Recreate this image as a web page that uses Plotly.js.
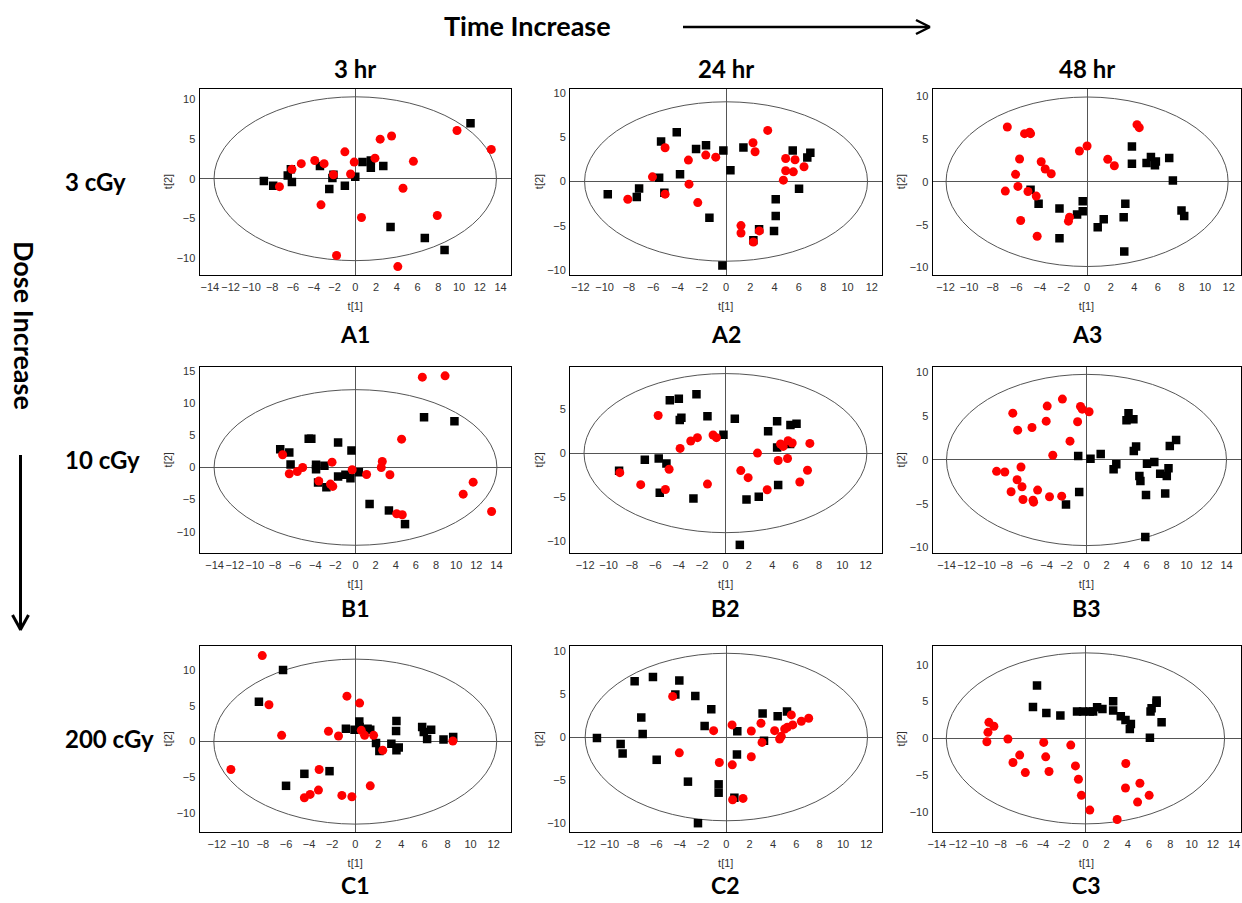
<!DOCTYPE html>
<html><head><meta charset="utf-8">
<script src="https://cdn.plot.ly/plotly-3.0.1.min.js"></script>
<style>html,body{margin:0;padding:0;background:#fff;} #chart{width:1242px;height:903px;}</style>
</head><body><div id="chart"></div>
<script>
// ---- Data: black squares (sq) and red circles (rd) per panel ----
const a1SqX = [11.1,-8.8,-7.9,-6.2,-6.5,-6.1,-3.4,-2.1,-2.2,-2.5,-1.0,0.0,0.7,1.5,1.5,2.7,3.4,6.7,8.6];
const a1SqY = [7.0,-0.3,-0.9,1.2,0.4,-0.4,1.6,0.5,0.1,-1.3,-0.9,0.25,2.1,2.3,1.4,1.6,-6.1,-7.5,-9.0];
const a1RdX = [-7.3,-6.1,-5.2,-3.9,-3.0,-3.3,-2.1,-1.0,-0.1,-0.45,-1.8,0.6,1.9,2.4,3.5,4.6,5.6,4.1,7.9,9.8,13.1];
const a1RdY = [-1.0,1.2,1.9,2.3,1.9,-3.3,0.5,3.4,2.1,0.6,-9.7,-4.9,2.6,5.0,5.4,-1.2,2.2,-11.1,-4.65,6.1,3.7];

const a2SqX = [-9.74,-7.35,-7.16,-5.35,-5.51,-5.08,-4.06,-3.79,-2.47,-1.65,-1.37,-0.22,-0.30,0.36,1.43,2.25,2.72,3.95,4.09,4.09,5.49,6.01,6.69,6.94];
const a2SqY = [-1.43,-1.74,-0.79,4.53,0.42,-1.28,5.55,0.83,3.66,4.08,-4.08,3.51,-9.47,1.28,3.85,-6.64,-5.40,-5.58,-2.0,-3.89,3.51,-0.83,2.72,3.25];
const a2RdX = [-8.09,-6.06,-5.02,-5.02,-3.10,-3.05,-2.33,-1.67,-0.85,1.23,1.23,2.25,2.74,2.22,2.39,3.43,4.72,4.91,4.91,5.54,5.68,6.42];
const a2RdY = [-2.0,0.53,3.81,-1.43,2.42,-0.30,-2.38,2.98,2.75,-4.98,-5.81,-6.83,-5.58,4.38,3.36,5.77,0.15,2.60,1.21,1.09,2.45,1.66];

const a3SqX = [3.80,3.80,5.04,5.41,5.75,5.83,6.96,7.27,8.0,8.23,3.24,3.10,3.15,1.41,0.90,-0.37,-0.37,-0.85,-2.34,-2.34,-4.11,-4.79];
const a3SqY = [4.12,2.10,2.18,2.88,1.91,2.37,2.76,0.16,-3.35,-4.0,-2.57,-4.12,-8.13,-4.36,-5.29,-2.26,-3.42,-3.81,-3.11,-6.58,-2.57,-0.93];
const a3RdX = [-6.76,-5.30,-4.87,-4.79,-5.72,-3.89,-3.55,-3.04,-6.06,-5.86,-6.93,-5.01,-4.31,-5.63,-4.23,-1.49,-1.58,-0.65,0.0,1.75,2.31,4.23,4.42];
const a3RdY = [6.38,5.60,5.76,5.60,2.65,2.33,1.48,0.93,0.86,-0.54,-1.09,-1.13,-1.67,-4.51,-6.34,-4.12,-4.59,3.58,4.16,2.61,1.87,6.65,6.30];

const b1SqX = [6.81,9.83,-7.48,-6.58,-6.45,-4.65,-4.39,-3.92,-3.92,-3.09,-1.73,-0.40,-1.73,-1.0,-0.50,0.33,-3.72,-2.89,1.40,3.32,4.92];
const b1SqY = [7.82,7.20,2.85,2.33,0.47,4.46,4.46,0.41,-0.26,0.26,3.89,2.64,-1.40,-1.14,-1.66,-0.73,-2.33,-3.06,-5.70,-6.68,-8.81];
const b1RdX = [6.64,8.90,4.58,-7.24,-6.58,-5.78,-5.25,-2.33,-3.65,-2.49,-2.26,-0.33,1.10,2.66,2.56,3.42,4.09,4.65,10.70,11.69,13.52];
const b1RdY = [14.04,14.25,4.40,1.97,-0.98,-0.62,0.0,0.83,-2.12,-2.59,-2.95,-0.36,-1.09,0.93,0.0,-1.14,-7.20,-7.36,-4.15,-2.28,-6.84];

const b2SqX = [-2.48,-4.76,-3.99,-3.91,-3.77,-1.54,-0.17,0.80,3.65,4.42,5.56,6.08,4.42,5.53,-6.90,-5.71,-5.05,-9.10,-5.62,-2.74,1.80,2.85,4.51,1.23];
const b2SqY = [6.65,5.97,6.16,3.76,3.99,4.18,2.09,3.88,2.47,3.61,3.19,3.31,0.65,1.03,-0.76,-0.61,-1.18,-2.0,-4.49,-5.13,-5.25,-4.94,-3.61,-10.38];
const b2RdX = [-5.76,-3.88,-2.97,-2.40,-1.06,-0.77,-4.82,-9.04,-7.25,-5.14,-1.54,1.31,1.94,2.74,3.57,4.51,4.71,4.94,5.31,5.36,5.71,6.36,7.02,7.22];
const b2RdY = [4.26,0.53,1.37,1.75,2.05,1.75,-1.83,-2.21,-3.57,-4.11,-3.50,-1.98,-2.78,0.0,-4.14,-0.84,1.03,0.76,-0.61,1.41,1.14,-3.27,-1.94,1.10];

const b3SqX = [4.20,4.0,4.69,4.96,4.73,8.33,8.96,-0.83,0.40,1.42,2.98,2.71,6.05,6.78,5.29,5.39,7.37,8.03,8.20,5.95,7.87,-0.73,-2.05,5.88];
const b3SqY = [5.36,4.56,4.67,1.53,1.03,1.61,2.30,0.46,0.15,0.69,-0.50,-1.07,-0.42,-0.23,-1.84,-2.41,-1.57,-1.84,-0.96,-4.02,-3.83,-3.68,-5.10,-8.81];
const b3RdX = [-2.41,-3.93,-0.60,-0.43,0.26,-7.37,-6.88,-5.45,-4.03,-0.89,-1.65,-3.37,-6.55,-8.99,-8.17,-6.94,-6.45,-7.54,-6.35,-5.29,-5.35,-4.89,-3.70,-2.48];
const b3RdY = [6.97,6.17,6.13,5.82,5.52,5.36,3.41,3.72,4.44,4.37,2.15,0.54,-0.80,-1.30,-1.38,-2.26,-3.07,-3.64,-4.52,-4.83,-4.6,-3.45,-4.21,-4.14];

const c1SqX = [-6.26,-8.35,-6.0,-4.41,-2.23,-0.81,-0.06,0.35,0.38,1.07,1.30,1.80,2.09,3.13,3.57,3.54,3.77,3.57,5.80,5.94,6.23,6.58,7.65,8.49];
const c1SqY = [10.0,5.56,-6.16,-4.49,-4.12,1.81,1.67,2.82,2.04,1.81,1.67,-0.19,-1.30,-0.28,2.87,1.48,-0.83,-1.20,2.04,1.34,0.37,1.67,0.28,0.65];
const c1RdX = [-8.06,-7.48,-6.38,-10.78,-4.41,-3.91,-3.19,-3.13,-2.32,-1.45,-0.72,0.38,-1.16,-0.29,0.52,0.81,1.59,1.30,2.38,8.46];
const c1RdY = [11.99,5.14,0.88,-3.89,-7.82,-7.36,-6.76,-3.89,1.44,0.79,6.34,5.37,-7.5,-7.69,1.57,0.88,0.88,-6.16,-1.20,0.09];

const c2SqX = [-11.09,-9.06,-8.89,-7.86,-6.29,-7.29,-7.17,-5.97,-4.03,-4.37,-2.66,-1.29,-1.86,-3.29,-0.66,-0.66,-2.43,0.94,0.91,0.69,3.11,3.23,4.40,5.20];
const c2SqY = [-0.12,-0.82,-1.90,6.45,6.95,2.25,0.35,-2.64,6.56,4.93,4.74,3.22,1.28,-5.17,-5.48,-6.45,-9.98,0.66,-2.02,-7.03,2.72,-0.43,2.41,2.95];
const c2RdX = [-4.6,-1.09,-4.03,-0.60,0.49,0.51,0.54,1.43,2.14,2.14,2.97,3.06,4.14,4.57,4.71,5.0,5.23,5.57,5.69,6.43,7.06];
const c2RdY = [4.70,0.74,-1.83,-2.95,1.40,-3.22,-7.26,-7.11,0.70,-2.29,1.59,-0.62,0.74,-0.23,0.08,0.93,1.13,2.56,1.40,1.83,2.17];

const c3SqX = [-4.56,-4.94,-3.68,-2.36,-0.79,-0.22,0.41,0.72,1.10,1.60,2.61,2.61,3.33,3.77,4.28,4.18,6.13,6.23,6.70,6.70,7.17,6.07];
const c3SqY = [7.18,4.27,3.45,3.09,3.64,3.64,3.64,3.64,4.23,4.0,5.05,3.77,3.0,2.5,1.95,1.27,3.64,4.09,5.14,4.82,2.18,0.09];
const c3RdX = [-9.09,-8.62,-9.18,-9.28,-7.30,-6.19,-6.82,-5.66,-3.93,-3.74,-3.43,-1.38,-0.94,-0.66,-0.38,0.41,2.99,3.80,3.77,5.13,4.91,6.0];
const c3RdY = [2.18,1.64,0.82,-0.45,-0.09,-2.27,-3.27,-4.64,-0.55,-2.5,-4.5,-0.91,-3.73,-5.55,-7.73,-9.73,-11.0,-3.41,-6.73,-6.09,-8.64,-7.73];

// Hotelling ellipse half-axes per panel (t[1], t[2])
const ellipseA = [13.6, 11.65, 11.95, 14.05, 12.1, 14.0, 12.26, 12.1, 13.1];
const ellipseB = [10.35, 9.0, 9.87, 12.1, 9.0, 9.8, 11.5, 9.7, 11.6];

const panelLabels = ['A1','A2','A3','B1','B2','B3','C1','C2','C3'];
const colLabels = ['3 hr','24 hr','48 hr'];
const rowLabels = ['3 cGy','10 cGy','200 cGy'];

// ---- Layout ----
const W = 1242, H = 903;
const px = v => v / W, py = v => 1 - v / H;
const colPx = [[199.5, 511], [570, 881.5], [932.5, 1240.5]];
const rowPx = [[88.5, 274.5], [366.5, 553], [645.5, 832]];
const panelLabelY = [334, 608, 885];
const xRanges = [[-15,15],[-12.85,12.8],[-13.1,13.0],[-15.5,15.45],[-13.3,13.35],[-15.4,15.4],[-13.5,13.5],[-13.4,13.3],[-14.4,14.6]];
const yRanges = [[-12.1,11.4],[-10.5,10.5],[-10.8,10.86],[-13.3,15.7],[-11.3,9.8],[-10.65,10.7],[-12.6,13.4],[-11.0,10.6],[-12.7,12.6]];

const sets = [
  [a1SqX,a1SqY,a1RdX,a1RdY],[a2SqX,a2SqY,a2RdX,a2RdY],[a3SqX,a3SqY,a3RdX,a3RdY],
  [b1SqX,b1SqY,b1RdX,b1RdY],[b2SqX,b2SqY,b2RdX,b2RdY],[b3SqX,b3SqY,b3RdX,b3RdY],
  [c1SqX,c1SqY,c1RdX,c1RdY],[c2SqX,c2SqY,c2RdX,c2RdY],[c3SqX,c3SqY,c3RdX,c3RdY]
];

const tickFont = {family: 'Liberation Sans, Arial, sans-serif', size: 11, color: '#333'};
const boldFont = (s) => ({family: 'Lato, Open Sans, sans-serif', size: s, color: '#000', weight: 'bold'});
const label = (x, y, text, size, extra) => Object.assign({xref: 'paper', yref: 'paper', x: px(x), y: py(y),
  xanchor: 'center', yanchor: 'middle', text: text, showarrow: false, font: boldFont(size)}, extra || {});

const traces = [];
const layout = {
  width: W, height: H,
  margin: {l: 0, r: 0, t: 0, b: 0, pad: 0, autoexpand: false},
  paper_bgcolor: '#fff', plot_bgcolor: '#fff',
  showlegend: false,
  shapes: [], annotations: []
};

sets.forEach((s, i) => {
  const r = Math.floor(i / 3), c = i % 3;
  const n = i === 0 ? '' : String(i + 1);
  const xa = 'x' + n, ya = 'y' + n;
  traces.push({type: 'scatter', mode: 'markers', x: s[0], y: s[1], xaxis: xa, yaxis: ya,
    marker: {symbol: 'square', size: 8.5, color: '#000'}, hoverinfo: 'skip'});
  traces.push({type: 'scatter', mode: 'markers', x: s[2], y: s[3], xaxis: xa, yaxis: ya,
    marker: {symbol: 'circle', size: 9, color: '#ff0000'}, hoverinfo: 'skip'});
  const common = {
    showline: true, mirror: true, linecolor: '#000', linewidth: 1,
    ticks: '', showgrid: false, automargin: false,
    zeroline: true, zerolinecolor: '#555', zerolinewidth: 1,
    tickfont: tickFont, tick0: 0, tickangle: 0, fixedrange: true
  };
  layout['xaxis' + n] = Object.assign({}, common, {
    domain: [px(colPx[c][0]), px(colPx[c][1])], anchor: ya, range: xRanges[i], dtick: 2,
    ticklabelstandoff: 2,
    title: {text: 't[1]', font: {family: 'Liberation Sans, Arial, sans-serif', size: 11, color: '#333'}, standoff: 10}
  });
  layout['yaxis' + n] = Object.assign({}, common, {
    domain: [py(rowPx[r][1]), py(rowPx[r][0])], anchor: xa, range: yRanges[i], dtick: 5,
    ticklabelstandoff: 1,
    title: {text: 't[2]', font: {family: 'Liberation Sans, Arial, sans-serif', size: 11, color: '#333'}, standoff: 1}
  });
  layout.shapes.push({type: 'circle', xref: xa, yref: ya, layer: 'below',
    x0: -ellipseA[i], x1: ellipseA[i], y0: -ellipseB[i], y1: ellipseB[i],
    line: {color: '#555', width: 1}});
  layout.annotations.push(label((colPx[c][0] + colPx[c][1]) / 2, panelLabelY[r], panelLabels[i], 23));
});

// column headers centred on the panels
colLabels.forEach((t, k) => layout.annotations.push(label((colPx[k][0] + colPx[k][1]) / 2, 69, t, 24)));
// row headers, left aligned, centred on each row
rowLabels.forEach((t, k) => layout.annotations.push(label(63, (rowPx[k][0] + rowPx[k][1]) / 2, t, 24, {xanchor: 'left'})));

// time / dose titles
layout.annotations.push(label(527, 25, 'Time Increase', 27));
layout.annotations.push(label(25, 325, 'Dose Increase', 27, {textangle: 90}));

// arrows (line + chevron head), paper coords
const P = (x0, y0, x1, y1, w) => ({type: 'line', xref: 'paper', yref: 'paper',
  x0: px(x0), y0: py(y0), x1: px(x1), y1: py(y1), line: {color: '#000', width: w}});
layout.shapes.push(P(683, 27, 929, 27, 2.5));
layout.shapes.push(P(916, 20, 930, 27, 2.5));
layout.shapes.push(P(916, 34, 930, 27, 2.5));
layout.shapes.push(P(20.5, 455, 20.5, 629, 3));
layout.shapes.push(P(12.5, 615, 20.8, 630, 3));
layout.shapes.push(P(28.5, 615, 20.2, 630, 3));

Plotly.newPlot('chart', traces, layout, {staticPlot: true, displayModeBar: false});
</script>
</body></html>
